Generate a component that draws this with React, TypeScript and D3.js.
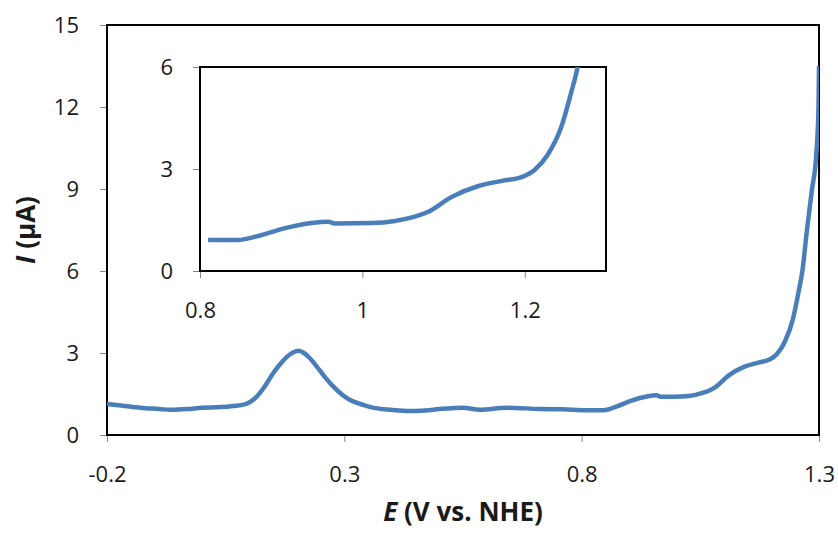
import React, { useEffect, useRef } from 'react';
import * as d3 from 'd3';

// potential (V vs. NHE) and current (µA)
const E_VALUES = [
  -0.2, -0.17, -0.13, -0.09, -0.067, -0.03, 0.0, 0.04, 0.066, 0.09, 0.105, 0.115, 0.13,
  0.15, 0.165, 0.179, 0.192, 0.204, 0.215, 0.228, 0.242, 0.26, 0.277, 0.295, 0.312,
  0.34, 0.36, 0.39, 0.432, 0.47, 0.5, 0.55, 0.586, 0.642, 0.712, 0.76, 0.81, 0.846,
  0.876, 0.905, 0.937, 0.958, 0.966, 1.011, 1.04, 1.081, 1.11, 1.143, 1.172, 1.196,
  1.212, 1.228, 1.245, 1.257, 1.265, 1.274, 1.285, 1.294, 1.299, 1.3
];
const I_VALUES = [
  1.13, 1.08, 1.0, 0.95, 0.92, 0.95, 1.0, 1.02, 1.06, 1.12, 1.25, 1.4, 1.72,
  2.26, 2.6, 2.86, 3.02, 3.08, 3.0, 2.8, 2.5, 2.1, 1.77, 1.48, 1.28,
  1.1, 1.0, 0.93, 0.88, 0.9, 0.95, 1.0, 0.92, 1.0, 0.95, 0.94, 0.91, 0.91,
  1.06, 1.26, 1.41, 1.45, 1.4, 1.41, 1.47, 1.74, 2.18, 2.5, 2.65, 2.76,
  2.97, 3.41, 4.24, 5.24, 6.0, 7.4, 8.96, 10.2, 12.0, 13.5
];

const MAIN_X_TICKS = [-0.2, 0.3, 0.8, 1.3];
const MAIN_Y_TICKS = [0, 3, 6, 9, 12, 15];
const INSET_X_TICKS = [0.8, 1, 1.2];
const INSET_Y_TICKS = [0, 3, 6];

const FONT = '"Open Sans", Lato, sans-serif';
const BLUE = '#4a7ebb';

// plain hyphen for negatives, like the original spreadsheet chart
const fmtX = d => (d === 1 ? '1' : d.toFixed(1));

export default function App() {
  const svgRef = useRef(null);

  useEffect(() => {
    document.body.style.margin = '0';
    const svg = d3.select(svgRef.current);
    svg.selectAll('*').remove();

    const data = E_VALUES.map((e, i) => ({ e, i: I_VALUES[i] }));

    // main plot
    const x = d3.scaleLinear().domain([-0.2, 1.3]).range([107, 819]);
    const y = d3.scaleLinear().domain([0, 15]).range([435, 25]);

    // inset
    const xi = d3.scaleLinear().domain([0.8, 1.3]).range([200, 606]);
    const yi = d3.scaleLinear().domain([0, 6]).range([271, 67]);

    svg.append('rect').attr('width', 838).attr('height', 533).attr('fill', '#fff');

    const defs = svg.append('defs');
    defs.append('clipPath').attr('id', 'clip-main')
      .append('rect').attr('x', 107).attr('y', 25).attr('width', 712).attr('height', 410);
    defs.append('clipPath').attr('id', 'clip-inset')
      .append('rect').attr('x', 200).attr('y', 67).attr('width', 406).attr('height', 204);

    const drawAxes = (xs, ys, xTicks, yTicks, labelGapY, labelGapX) => {
      const [x0, x1] = xs.range();
      const [y0, y1] = ys.range();

      const gx = svg.append('g').attr('transform', `translate(0,${y0})`)
        .call(d3.axisBottom(xs).tickValues(xTicks).tickSize(7).tickFormat(fmtX));
      gx.select('.domain').remove();
      gx.selectAll('line').attr('stroke', '#868686');
      gx.selectAll('text').attr('font-family', FONT).attr('font-size', 22)
        .attr('fill', '#1a1a1a').attr('y', labelGapX).attr('dy', 0);

      const gy = svg.append('g').attr('transform', `translate(${x0},0)`)
        .call(d3.axisLeft(ys).tickValues(yTicks).tickSize(7).tickFormat(d3.format('d')));
      gy.select('.domain').remove();
      gy.selectAll('line').attr('stroke', '#868686');
      gy.selectAll('text').attr('font-family', FONT).attr('font-size', 22)
        .attr('fill', '#1a1a1a').attr('x', -labelGapY).attr('dy', '0.35em');

      svg.append('rect')
        .attr('x', x0).attr('y', y1)
        .attr('width', x1 - x0).attr('height', y0 - y1)
        .attr('fill', 'none').attr('stroke', '#000').attr('stroke-width', 2);
    };

    drawAxes(x, y, MAIN_X_TICKS, MAIN_Y_TICKS, 28, 47);

    const lineMain = d3.line().x(d => x(d.e)).y(d => y(d.i)).curve(d3.curveMonotoneX);
    svg.append('path').datum(data)
      .attr('clip-path', 'url(#clip-main)')
      .attr('d', lineMain)
      .attr('fill', 'none').attr('stroke', BLUE).attr('stroke-width', 4.5)
      .attr('stroke-linejoin', 'round');

    svg.append('rect').attr('x', 200).attr('y', 67).attr('width', 406).attr('height', 204).attr('fill', '#fff');
    drawAxes(xi, yi, INSET_X_TICKS, INSET_Y_TICKS, 27, 47);

    const lineInset = d3.line().x(d => xi(d.e)).y(d => yi(d.i)).curve(d3.curveMonotoneX);
    svg.append('path').datum(data.filter(d => d.e >= 0.78))
      .attr('clip-path', 'url(#clip-inset)')
      .attr('d', lineInset)
      .attr('fill', 'none').attr('stroke', BLUE).attr('stroke-width', 4.5)
      .attr('stroke-linejoin', 'round');

    // axis titles
    const xt = svg.append('text')
      .attr('x', 463).attr('y', 521).attr('text-anchor', 'middle')
      .attr('font-family', FONT).attr('font-size', 26).attr('font-weight', 'bold').attr('fill', '#1a1a1a');
    xt.append('tspan').attr('font-style', 'italic').text('E');
    xt.append('tspan').text(' (V vs. NHE)');

    const yt = svg.append('text')
      .attr('transform', 'translate(35,230) rotate(-90)').attr('text-anchor', 'middle')
      .attr('font-family', FONT).attr('font-size', 26).attr('font-weight', 'bold').attr('fill', '#1a1a1a');
    yt.append('tspan').attr('font-style', 'italic').text('I');
    yt.append('tspan').text(' (µA)');
  }, []);

  return <svg ref={svgRef} width={838} height={533} style={{ display: 'block' }} />;
}
